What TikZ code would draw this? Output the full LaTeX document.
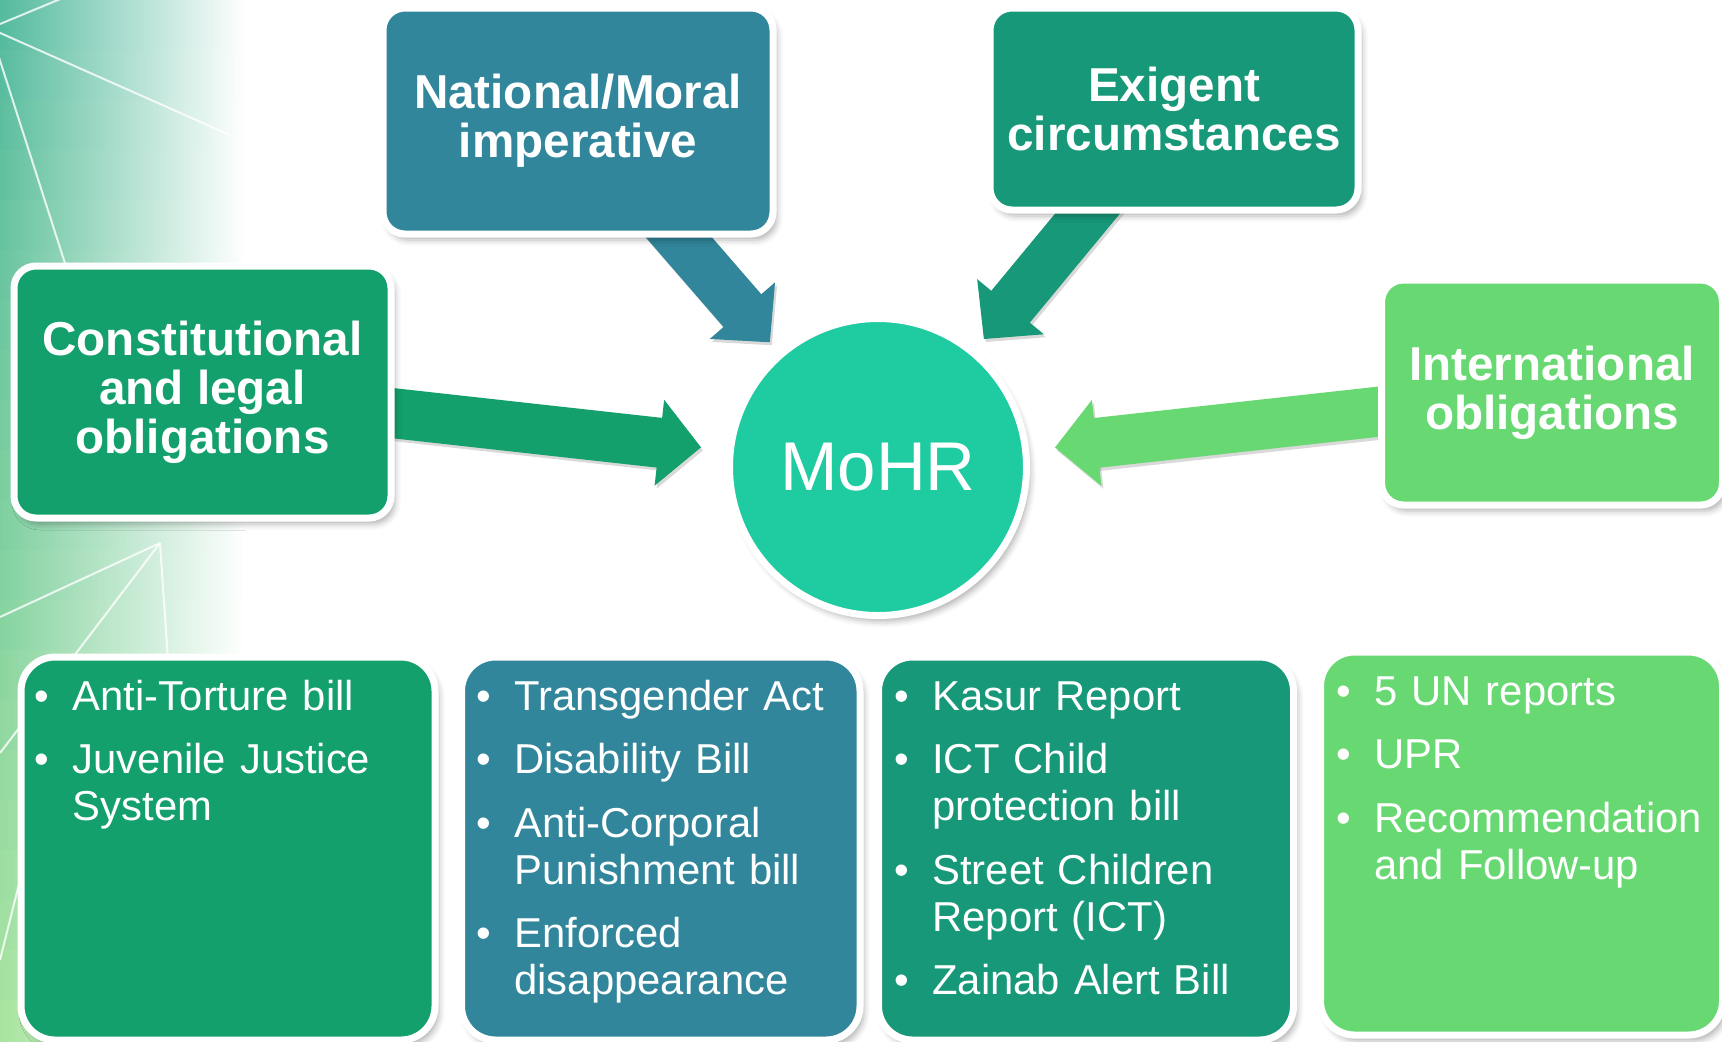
\documentclass[tikz,border=0pt]{standalone}
\usepackage{fontspec}
\setmainfont{Liberation Sans}
\usetikzlibrary{calc}
\usetikzlibrary{arrows.meta}
\usetikzlibrary{shadows.blur}

\definecolor{consgreen}{RGB}{19,160,108}
\definecolor{natblue}{RGB}{49,134,155}
\definecolor{exigreen}{RGB}{23,152,120}
\definecolor{intlgreen}{RGB}{104,216,114}
\definecolor{mohrteal}{RGB}{31,203,160}
\definecolor{bgteal}{RGB}{84,186,158}
\definecolor{bglight}{RGB}{168,228,160}

\newcommand{\bitem}[1]{\noindent\hangindent=19pt\hangafter=1\makebox[19pt][l]{\textbullet}#1\par}

\tikzset{
  boxshadow/.style={blur shadow={shadow xshift=2pt,shadow yshift=-3pt,shadow blur radius=3pt,shadow opacity=30}},
  headbox/.style={rectangle,rounded corners=11pt,draw=white,line width=3.5pt,inner sep=0pt,text=white,align=center,font=\fontsize{23.8}{24.5}\selectfont\bfseries,boxshadow},
  listbox/.style={rectangle,rounded corners=17pt,draw=white,line width=3.5pt,minimum height=191.5pt,boxshadow},
  listtext/.style={anchor=base west,inner sep=0pt,text=white,text width=200pt,font=\fontsize{20.9}{23.5}\selectfont,execute at begin node={\setlength{\parskip}{8.25pt}}},
  fatarrow/.style={line width=25pt,-{Triangle[width=42pt,length=21pt]}},
  arrowshade/.style={line width=25pt,-{Triangle[width=42pt,length=21pt]},black,opacity=0.15},
  starline/.style={white,line width=1pt,opacity=0.8},
}

\begin{document}
\begin{tikzpicture}[x=0.5pt,y=0.5pt,yscale=-1,xscale=1]
\useasboundingbox (0,0) rectangle (1722,1041);

% backdrop on the left
\foreach \i in {0,...,20} {
  \pgfmathsetmacro{\mixp}{100-5*\i}
  \shade[left color=bgteal!\mixp!bglight,right color=white] (0,\i*50) rectangle (245,\i*50+51);
}
\draw[starline] (-20,24) -- (230,135);
\draw[starline] (0,24) -- (70,-5);
\draw[starline] (-5,45) -- (80,310);
\draw[starline] (160,543) -- (0,617);
\draw[starline] (160,543) -- (0,753);
\draw[starline] (160,543) -- (168,660);
\draw[starline] (0,960) -- (25,860);

% centres of the boxes
\coordinate (natc) at (578,121);
\coordinate (exic) at (1174,109);
\coordinate (consc) at (202.5,392);
\coordinate (intlc) at (1552,392.5);
\coordinate (mohrc) at (878,467);

% arrows into MoHR
\draw[arrowshade] ([shift={(2,3)}]consc) -- ([shift={(2,3)}]$(mohrc)!89pt!(consc)$);
\draw[arrowshade] ([shift={(2,3)}]natc) -- ([shift={(2,3)}]$(mohrc)!82.5pt!(natc)$);
\draw[arrowshade] ([shift={(2,3)}]exic) -- ([shift={(2,3)}]$(mohrc)!83pt!(exic)$);
\draw[arrowshade] ([shift={(2,3)}]intlc) -- ([shift={(2,3)}]$(mohrc)!89pt!(intlc)$);
\draw[fatarrow,consgreen] (consc) -- ($(mohrc)!89pt!(consc)$);
\draw[fatarrow,natblue] (natc) -- ($(mohrc)!82.5pt!(natc)$);
\draw[fatarrow,exigreen] (exic) -- ($(mohrc)!83pt!(exic)$);
\draw[fatarrow,intlgreen] (intlc) -- ($(mohrc)!89pt!(intlc)$);

% top row
\node[headbox,fill=natblue,minimum width=195pt,minimum height=113pt] (nat) at (natc) {National/Moral\\imperative};
\node[headbox,fill=exigreen,minimum width=184pt,minimum height=101pt] (exi) at (exic) {Exigent\\circumstances};
\node[headbox,fill=consgreen,minimum width=188.5pt,minimum height=126pt] (cons) at (consc) {Constitutional\\and legal\\obligations};
\node[headbox,fill=intlgreen,minimum width=170.5pt,minimum height=112.5pt] (intl) at (intlc) {International\\obligations};

% centre
\node[circle,fill=mohrteal,draw=white,line width=3.5pt,minimum size=148.5pt,inner sep=0pt,text=white,font=\fontsize{34.5}{40}\selectfont,boxshadow] (mohr) at (mohrc) {MoHR};

% bottom row
\node[listbox,fill=consgreen,minimum width=207pt] (list1) at (228,848.5) {};
\node[listbox,fill=natblue,minimum width=199.25pt] (list2) at (660.75,848.5) {};
\node[listbox,fill=exigreen,minimum width=207.5pt] (list3) at (1086,848.5) {};
\node[listbox,fill=intlgreen,minimum width=201pt] (list4) at (1521.5,843.5) {};

% Text Node
\node[listtext] (text1) at (34.5,710) {\bitem{Anti-Torture bill}\bitem{Juvenile Justice\newline System}};
% Text Node
\node[listtext] (text2) at (476,710) {\bitem{Transgender Act}\bitem{Disability Bill}\bitem{Anti-Corporal\newline Punishment bill}\bitem{Enforced\newline disappearance}};
% Text Node
\node[listtext] (text3) at (894,710) {\bitem{Kasur Report}\bitem{ICT Child\newline protection bill}\bitem{Street Children\newline Report (ICT)}\bitem{Zainab Alert Bill}};
% Text Node
\node[listtext] (text4) at (1336,705) {\bitem{5 UN reports}\bitem{UPR}\bitem{Recommendation\newline and Follow-up}};

\end{tikzpicture}
\end{document}
